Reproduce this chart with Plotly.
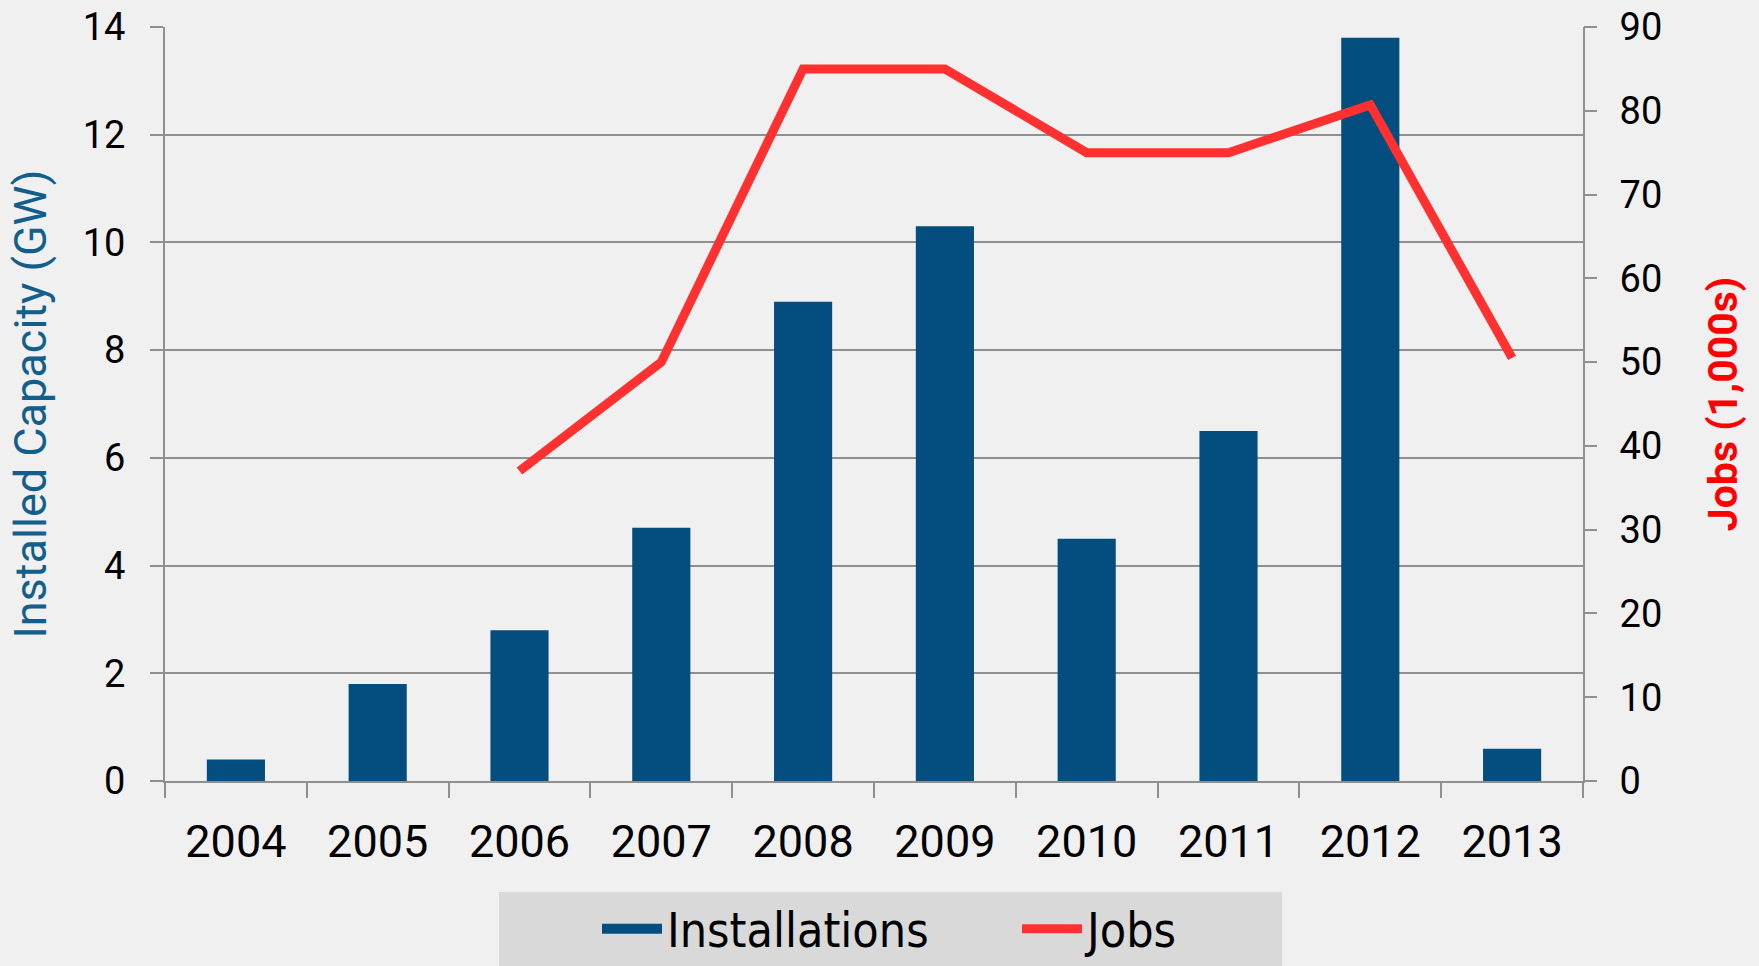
import plotly.graph_objects as go

years = ["2004", "2005", "2006", "2007", "2008", "2009", "2010", "2011", "2012", "2013"]
installations_gw = [0.4, 1.8, 2.8, 4.7, 8.9, 10.3, 4.5, 6.5, 13.8, 0.6]
jobs_thousands = [None, None, 37, 50, 85, 85, 75, 75, 80.7, 50.5]

left_ticks = [0, 2, 4, 6, 8, 10, 12, 14]
right_ticks = [0, 10, 20, 30, 40, 50, 60, 70, 80, 90]

BG = "#f0f0f0"
GRID = "#8f8f8f"
BAR = "#034e7e"
LINE = "#ff3030"
TITLE_BLUE = "#125f8c"
TICK_FONT = "Roboto"

fig = go.Figure()
fig.add_trace(go.Bar(
    x=years, y=installations_gw, name="Installations",
    marker=dict(color=BAR, line=dict(width=0)),
    width=0.41, yaxis="y", showlegend=False,
))
# legend proxy for the bar series (wide swatch like the original)
fig.add_trace(go.Scatter(
    x=[None], y=[None], name="Installations", mode="lines",
    line=dict(color=BAR, width=26), yaxis="y", hoverinfo="skip",
))
fig.add_trace(go.Scatter(
    x=years, y=jobs_thousands, name="Jobs", mode="lines",
    line=dict(color=LINE, width=9), yaxis="y2", connectgaps=False,
))
# empty trace so the tick-mark axis (y3) is rendered
fig.add_trace(go.Scatter(
    x=[None], y=[None], mode="lines", yaxis="y3", showlegend=False, hoverinfo="skip",
))

W, H = 1759, 966
L, R, T, B = 165, 176, 27, 185
pw, ph = W - L - R, H - T - B

def px_x(x):
    return (x - L) / pw

def px_y(y):
    return (H - B - y) / ph

fig.add_shape(type="rect", xref="paper", yref="paper",
              x0=px_x(499), x1=px_x(1282), y0=px_y(892), y1=px_y(975),
              fillcolor="#d9d9d9", line=dict(width=0), layer="below")

right_axis_common = dict(
    range=[0, 90], tickvals=right_ticks, overlaying="y", side="right",
    showgrid=False, zeroline=False, ticks="outside", tickwidth=2,
)

fig.update_layout(
    width=W, height=H,
    margin=dict(l=L, r=R, t=T, b=B, autoexpand=False),
    paper_bgcolor=BG, plot_bgcolor=BG,
    showlegend=True,
    legend=dict(
        orientation="h", x=px_x(597), xanchor="left", y=px_y(929), yanchor="middle",
        bgcolor="rgba(0,0,0,0)", font=dict(family="DejaVu Sans Condensed", size=48, color="#000000"),
        entrywidth=345, entrywidthmode="pixels", traceorder="normal", itemwidth=60,
    ),
    xaxis=dict(
        type="category", showgrid=False, showline=True, linecolor=GRID, linewidth=2,
        ticks="outside", ticklen=15, tickwidth=2, tickcolor=GRID, tickson="boundaries",
        tickfont=dict(family=TICK_FONT, size=45, color="#000000"),
        ticklabelstandoff=20, range=[-0.5, 9.5], zeroline=False,
    ),
    yaxis=dict(
        range=[0, 14], tickvals=left_ticks, showgrid=True, gridcolor=GRID, gridwidth=2,
        showline=True, linecolor=GRID, linewidth=2, zeroline=False,
        ticks="outside", ticklen=13, tickwidth=2, tickcolor=GRID,
        tickfont=dict(family=TICK_FONT, size=38, color="#000000"),
        ticklabelstandoff=17,
        title=dict(text="Installed Capacity (GW)", font=dict(family=TICK_FONT, size=45, color=TITLE_BLUE), standoff=22),
    ),
    # right axis: labels + title (invisible long ticks push labels out)
    yaxis2=dict(
        **right_axis_common,
        showline=True, linecolor=GRID, linewidth=2,
        ticklen=27, tickcolor="rgba(0,0,0,0)",
        tickfont=dict(family=TICK_FONT, size=38, color="#000000"),
        title=dict(text="<b>Jobs (1,000s)</b>", font=dict(family=TICK_FONT, size=41, color="#ff0000"), standoff=47),
    ),
    # right axis: visible short tick marks
    yaxis3=dict(
        **right_axis_common,
        showline=False, showticklabels=False,
        ticklen=13, tickcolor=GRID,
    ),
    bargap=0.59,
)

fig.write_html(
    "out.html",
    config={"displayModeBar": False},
    post_script="document.body.style.margin='0';document.body.style.background='#f0f0f0';",
)
